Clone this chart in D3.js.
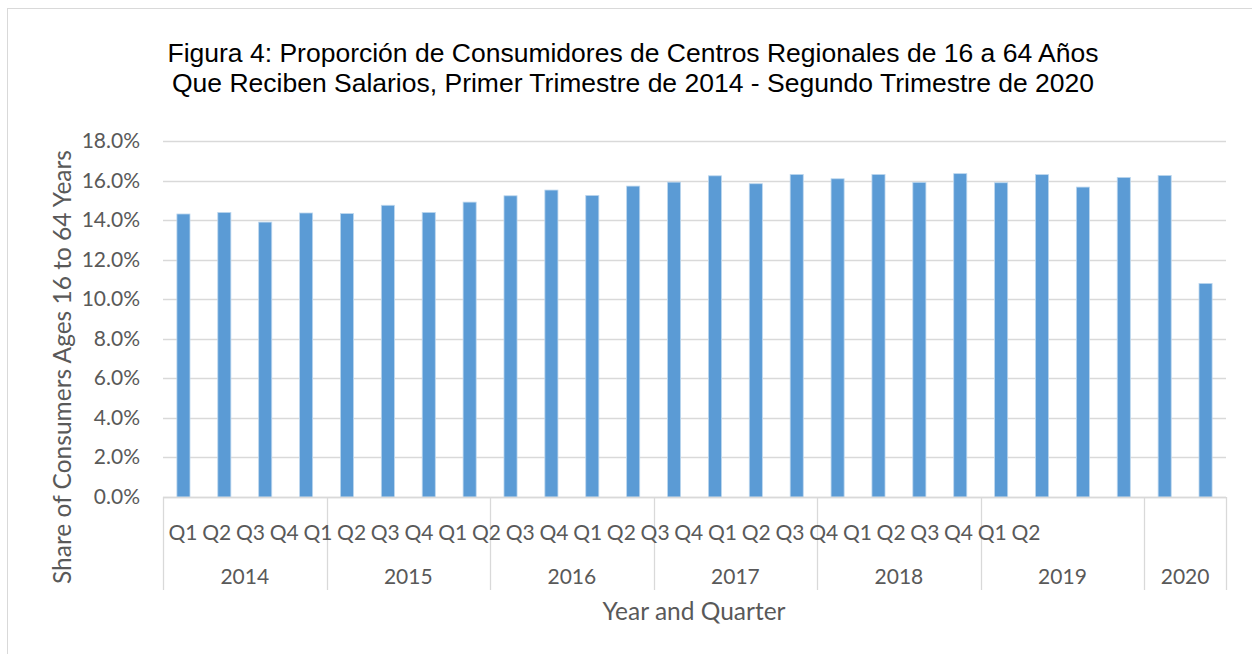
<!DOCTYPE html>
<html>
<head>
<meta charset="utf-8">
<script src="https://cdn.jsdelivr.net/npm/d3@7"></script>
<style>
  body { margin: 0; background: #fff; }
  svg { display: block; }
</style>
</head>
<body>
<div id="chart"></div>
<script>
// data
var years = ['2014', '2015', '2016', '2017', '2018', '2019', '2020'];
var quarters = ['Q1', 'Q2', 'Q3', 'Q4', 'Q1', 'Q2', 'Q3', 'Q4', 'Q1', 'Q2', 'Q3', 'Q4',
  'Q1', 'Q2', 'Q3', 'Q4', 'Q1', 'Q2', 'Q3', 'Q4', 'Q1', 'Q2', 'Q3', 'Q4', 'Q1', 'Q2'];
var barYears = ['2014', '2014', '2014', '2014', '2015', '2015', '2015', '2015',
  '2016', '2016', '2016', '2016', '2017', '2017', '2017', '2017',
  '2018', '2018', '2018', '2018', '2019', '2019', '2019', '2019', '2020', '2020'];
var shares = [14.31, 14.39, 13.90, 14.36, 14.33, 14.75, 14.39, 14.91, 15.23, 15.52,
  15.25, 15.72, 15.92, 16.24, 15.84, 16.31, 16.09, 16.31, 15.91, 16.35,
  15.89, 16.30, 15.67, 16.16, 16.26, 10.80];
var yTicks = [0, 2, 4, 6, 8, 10, 12, 14, 16, 18];

var W = 1252, H = 654;
var mLeft = 163, mRight = 1226, mTop = 141, mBottom = 497;
var axisFont = 'Lato, "Open Sans", sans-serif';

var svg = d3.select('#chart').append('svg')
  .attr('width', W).attr('height', H);

// outer chart border
svg.append('rect')
  .attr('x', 7.5).attr('y', 8.5)
  .attr('width', W + 10).attr('height', H + 10)
  .attr('fill', 'none').attr('stroke', '#d9d9d9');

var keys = shares.map(function(d, i){ return i; });

var x = d3.scaleBand()
  .domain(keys)
  .range([mLeft, mRight])
  .paddingInner(0.68)
  .paddingOuter(0.34);

var y = d3.scaleLinear()
  .domain([0, 18])
  .range([mBottom, mTop]);

// gridlines
svg.append('g').selectAll('line.grid')
  .data(yTicks).enter().append('line')
  .attr('x1', mLeft).attr('x2', mRight)
  .attr('y1', function(d){ return Math.round(y(d)) + 0.5; })
  .attr('y2', function(d){ return Math.round(y(d)) + 0.5; })
  .attr('stroke', '#d9d9d9').attr('stroke-width', 1.3);

// y tick labels
svg.append('g').selectAll('text.ytick')
  .data(yTicks).enter().append('text')
  .attr('x', 140)
  .attr('y', function(d){ return y(d) + 7; })
  .attr('text-anchor', 'end')
  .style('font-family', axisFont)
  .style('font-size', '21px')
  .style('fill', '#595959')
  .text(function(d){ return d.toFixed(1) + '%'; });

// bars
svg.append('g').selectAll('rect.bar')
  .data(shares).enter().append('rect')
  .attr('x', function(d, i){ return x(i); })
  .attr('width', x.bandwidth())
  .attr('y', function(d){ return y(d); })
  .attr('height', function(d){ return y(0) - y(d); })
  .attr('fill', '#5b9bd5')
  .attr('stroke', '#bdd7ee')
  .attr('stroke-width', 0.8);

// category axis: baseline and year separators
svg.append('line')
  .attr('x1', mLeft).attr('x2', mRight)
  .attr('y1', mBottom + 0.5).attr('y2', mBottom + 0.5)
  .attr('stroke', '#d9d9d9').attr('stroke-width', 1.3);

var yearSpans = years.map(function(yr){
  var idx = keys.filter(function(i){ return barYears[i] === yr; });
  var x0 = x(idx[0]) - x.step() * x.paddingInner() / 2;
  var x1 = x(idx[idx.length - 1]) + x.bandwidth() + x.step() * x.paddingInner() / 2;
  return { year: yr, x0: x0, x1: x1 };
});

var sepX = yearSpans.map(function(d){ return d.x0; }).concat([mRight]);
svg.append('g').selectAll('line.sep')
  .data(sepX).enter().append('line')
  .attr('x1', function(d){ return Math.round(d) + 0.5; })
  .attr('x2', function(d){ return Math.round(d) + 0.5; })
  .attr('y1', mBottom).attr('y2', 590)
  .attr('stroke', '#d9d9d9').attr('stroke-width', 1.3);

// year labels
svg.append('g').selectAll('text.year')
  .data(yearSpans).enter().append('text')
  .attr('x', function(d){ return (d.x0 + d.x1) / 2; })
  .attr('y', 584)
  .attr('text-anchor', 'middle')
  .style('font-family', axisFont)
  .style('font-size', '21px')
  .style('fill', '#595959')
  .text(function(d){ return d.year; });

// quarter labels (run together as in the original, not under their bars)
var qx = d3.scaleLinear().domain([0, quarters.length - 1]).range([183, 1026]);
svg.append('g').selectAll('text.q')
  .data(quarters).enter().append('text')
  .attr('x', function(d, i){ return qx(i); })
  .attr('y', 540)
  .attr('text-anchor', 'middle')
  .style('font-family', axisFont)
  .style('font-size', '21px')
  .style('fill', '#595959')
  .text(function(d){ return d; });

// axis titles
svg.append('text')
  .attr('transform', 'translate(71,367)rotate(-90)')
  .attr('text-anchor', 'middle')
  .style('font-family', axisFont)
  .style('font-size', '24.5px')
  .style('fill', '#595959')
  .text('Share of Consumers Ages 16 to 64 Years');

svg.append('text')
  .attr('x', 694).attr('y', 620)
  .attr('text-anchor', 'middle')
  .style('font-family', axisFont)
  .style('font-size', '24.5px')
  .style('fill', '#595959')
  .text('Year and Quarter');

// title
var title = svg.append('text')
  .attr('text-anchor', 'middle')
  .style('font-family', '"Liberation Sans", Arial, sans-serif')
  .style('font-size', '26.5px')
  .style('fill', '#000');
title.append('tspan').attr('x', 633).attr('y', 62)
  .text('Figura 4: Proporción de Consumidores de Centros Regionales de 16 a 64 Años');
title.append('tspan').attr('x', 633).attr('y', 92)
  .text('Que Reciben Salarios, Primer Trimestre de 2014 - Segundo Trimestre de 2020');
</script>
</body>
</html>
